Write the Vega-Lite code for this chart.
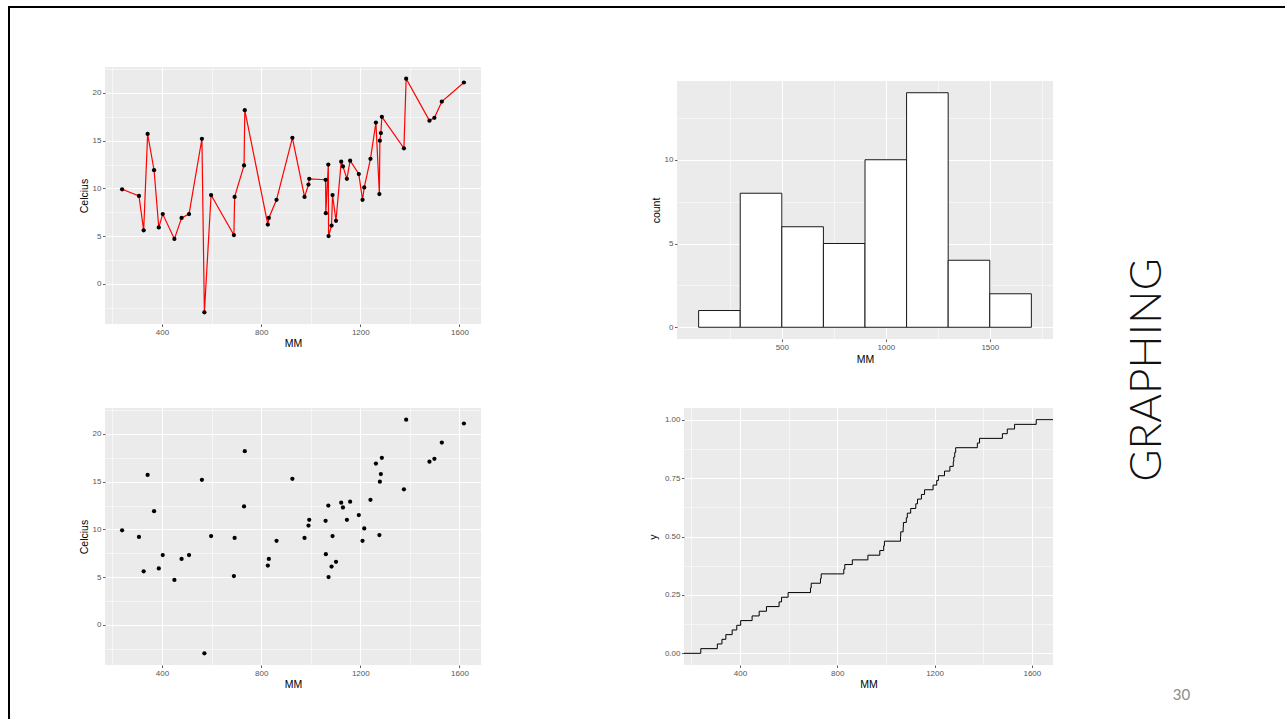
{
  "$schema": "https://vega.github.io/schema/vega-lite/v6.json",
  "background": "white",
  "padding": {"left": 8, "top": 6, "right": 0, "bottom": 0},
  "datasets": {
    "pts": [
      {"MM": 239, "C": 9.9}, {"MM": 307, "C": 9.2}, {"MM": 326, "C": 5.6}, {"MM": 342, "C": 15.7},
      {"MM": 368, "C": 11.9}, {"MM": 387, "C": 5.9}, {"MM": 403, "C": 7.3}, {"MM": 450, "C": 4.7},
      {"MM": 479, "C": 6.9}, {"MM": 509, "C": 7.3}, {"MM": 561, "C": 15.2}, {"MM": 571, "C": -3.0},
      {"MM": 598, "C": 9.3}, {"MM": 690, "C": 5.1}, {"MM": 693, "C": 9.1}, {"MM": 731, "C": 12.4},
      {"MM": 734, "C": 18.2}, {"MM": 827, "C": 6.2}, {"MM": 831, "C": 6.9}, {"MM": 862, "C": 8.8},
      {"MM": 926, "C": 15.3}, {"MM": 975, "C": 9.1}, {"MM": 991, "C": 10.4}, {"MM": 994, "C": 11.0},
      {"MM": 1060, "C": 10.9}, {"MM": 1061, "C": 7.4}, {"MM": 1071, "C": 12.5}, {"MM": 1072, "C": 5.0},
      {"MM": 1084, "C": 6.1}, {"MM": 1088, "C": 9.3}, {"MM": 1102, "C": 6.6}, {"MM": 1123, "C": 12.8},
      {"MM": 1130, "C": 12.3}, {"MM": 1146, "C": 11.0}, {"MM": 1159, "C": 12.9}, {"MM": 1194, "C": 11.5},
      {"MM": 1209, "C": 8.8}, {"MM": 1216, "C": 10.1}, {"MM": 1241, "C": 13.1}, {"MM": 1263, "C": 16.9},
      {"MM": 1277, "C": 9.4}, {"MM": 1279, "C": 15.0}, {"MM": 1283, "C": 15.8}, {"MM": 1287, "C": 17.5},
      {"MM": 1376, "C": 14.2}, {"MM": 1385, "C": 21.5}, {"MM": 1479, "C": 17.1}, {"MM": 1499, "C": 17.4},
      {"MM": 1529, "C": 19.1}, {"MM": 1618, "C": 21.1}
    ],
    "g": [{"label": "GRAPHING"}],
    "n": [{"label": "30"}],
    "none": [{"k": 1}]
  },
  "config": {
    "font": "Liberation Sans",
    "view": {"stroke": null},
    "axis": {
      "labelFont": "Liberation Sans", "labelFontSize": 8, "labelColor": "#555555",
      "tickColor": "#333333", "tickSize": 2.5, "tickWidth": 0.8, "labelPadding": 1.5,
      "domain": false, "gridColor": "#ffffff", "gridWidth": 1.1, "gridOpacity": 1,
      "titleFont": "Liberation Sans", "titleFontSize": 10.5, "titleFontWeight": "normal",
      "titleColor": "#000000", "labelFlush": false, "labelOverlap": false
    },
    "axisX": {"titlePadding": 2},
    "axisY": {"titlePadding": 2.3}
  },
  "spacing": 0,
  "vconcat": [
    {"width": 1277, "height": 2, "data": {"name": "none"}, "mark": {"type": "text", "text": "", "fontSize": 0}, "encoding": {}, "view": {"fill": "#000000", "stroke": null}},
    {
      "spacing": 69,
      "hconcat": [
        {"width": 2, "height": 711, "data": {"name": "none"}, "mark": {"type": "text", "text": "", "fontSize": 0}, "encoding": {}, "view": {"fill": "#000000", "stroke": null}},
        {
          "spacing": 58,
          "vconcat": [
            {"width": 1, "height": 1, "data": {"name": "none"}, "mark": {"type": "text", "text": "", "fontSize": 0}, "encoding": {}},
            {
              "spacing": 69,
              "hconcat": [
                {
                  "spacing": 43,
                  "vconcat": [
                    {
                      "spacing": 170,
                      "hconcat": [
                        {
                          "width": 376, "height": 257,
                          "view": {"fill": "#ebebeb", "stroke": null},
                          "data": {"name": "pts"},
                          "resolve": {"axis": {"x": "independent", "y": "independent"}},
                          "layer": [
                            {
                              "mark": {"type": "point", "opacity": 0},
                              "encoding": {
                                "x": {"field": "MM", "type": "quantitative", "scale": {"domain": [170, 1687], "nice": false, "zero": false},
                                      "axis": {"orient": "bottom", "values": [200, 600, 1000, 1400], "grid": true, "gridWidth": 0.55, "labels": false, "ticks": false, "domain": false, "title": null}},
                                "y": {"field": "C", "type": "quantitative", "scale": {"domain": [-4.225, 22.725], "nice": false, "zero": false},
                                      "axis": {"orient": "left", "values": [-2.5, 2.5, 7.5, 12.5, 17.5, 22.5], "grid": true, "gridWidth": 0.55, "labels": false, "ticks": false, "domain": false, "title": null}}
                              }
                            },
                            {
                              "layer": [
                                {
                                  "mark": {"type": "line", "color": "#ff0000", "strokeWidth": 1.2},
                                  "encoding": {
                                    "x": {"field": "MM", "type": "quantitative", "scale": {"domain": [170, 1687], "nice": false, "zero": false},
                                          "axis": {"orient": "bottom", "values": [400, 800, 1200, 1600], "format": "d", "title": "MM", "grid": true}},
                                    "y": {"field": "C", "type": "quantitative", "scale": {"domain": [-4.225, 22.725], "nice": false, "zero": false},
                                          "axis": {"orient": "left", "values": [0, 5, 10, 15, 20], "format": "d", "title": "Celcius", "grid": true}}
                                  }
                                },
                                {
                                  "mark": {"type": "circle", "color": "#000000", "size": 18, "opacity": 1},
                                  "encoding": {
                                    "x": {"field": "MM", "type": "quantitative",
                                          "axis": {"orient": "bottom", "values": [400, 800, 1200, 1600], "format": "d", "title": "MM", "grid": true}},
                                    "y": {"field": "C", "type": "quantitative",
                                          "axis": {"orient": "left", "values": [0, 5, 10, 15, 20], "format": "d", "title": "Celcius", "grid": true}}
                                  }
                                }
                              ]
                            }
                          ]
                        },
                        {
                          "spacing": 13,
                          "vconcat": [
                            {"width": 1, "height": 1, "data": {"name": "none"}, "mark": {"type": "text", "text": "", "fontSize": 0}, "encoding": {}},
                            {
                              "width": 376, "height": 258,
                              "view": {"fill": "#ebebeb", "stroke": null},
                              "data": {"name": "pts"},
                              "transform": [
                                {"bin": {"extent": [100, 1700], "step": 200, "nice": false}, "field": "MM", "as": ["b0", "b1"]},
                                {"aggregate": [{"op": "count", "as": "n"}], "groupby": ["b0", "b1"]}
                              ],
                              "resolve": {"axis": {"x": "independent", "y": "independent"}},
                              "layer": [
                                {
                                  "mark": {"type": "point", "opacity": 0},
                                  "encoding": {
                                    "x": {"field": "b0", "type": "quantitative", "scale": {"domain": [20, 1780], "nice": false, "zero": false},
                                          "axis": {"orient": "bottom", "values": [250, 750, 1250, 1750], "grid": true, "gridWidth": 0.55, "labels": false, "ticks": false, "domain": false, "title": null}},
                                    "y": {"field": "n", "type": "quantitative", "scale": {"domain": [-0.7, 14.7], "nice": false, "zero": false},
                                          "axis": {"orient": "left", "values": [2.5, 7.5, 12.5], "grid": true, "gridWidth": 0.55, "labels": false, "ticks": false, "domain": false, "title": null}}
                                  }
                                },
                                {
                                  "layer": [
                                    {
                                      "mark": {"type": "bar", "orient": "vertical", "color": "#ffffff", "fill": "#ffffff", "stroke": "#1a1a1a", "strokeWidth": 1},
                                      "encoding": {
                                        "x": {"field": "b0", "type": "quantitative", "scale": {"domain": [20, 1780], "nice": false, "zero": false},
                                              "axis": {"orient": "bottom", "values": [500, 1000, 1500], "format": "d", "title": "MM", "grid": true, "titlePadding": 3}},
                                        "x2": {"field": "b1"},
                                        "y": {"field": "n", "type": "quantitative", "scale": {"domain": [-0.7, 14.7], "nice": false, "zero": false},
                                              "axis": {"orient": "left", "values": [0, 5, 10], "format": "d", "title": "count", "grid": true, "titlePadding": 2.5}},
                                        "y2": {"datum": 0}
                                      }
                                    }
                                  ]
                                }
                              ]
                            }
                          ]
                        }
                      ]
                    },
                    {
                      "spacing": 167,
                      "hconcat": [
                        {
                          "width": 376, "height": 257,
                          "view": {"fill": "#ebebeb", "stroke": null},
                          "data": {"name": "pts"},
                          "resolve": {"axis": {"x": "independent", "y": "independent"}},
                          "layer": [
                            {
                              "mark": {"type": "point", "opacity": 0},
                              "encoding": {
                                "x": {"field": "MM", "type": "quantitative", "scale": {"domain": [170, 1687], "nice": false, "zero": false},
                                      "axis": {"orient": "bottom", "values": [200, 600, 1000, 1400], "grid": true, "gridWidth": 0.55, "labels": false, "ticks": false, "domain": false, "title": null}},
                                "y": {"field": "C", "type": "quantitative", "scale": {"domain": [-4.225, 22.725], "nice": false, "zero": false},
                                      "axis": {"orient": "left", "values": [-2.5, 2.5, 7.5, 12.5, 17.5, 22.5], "grid": true, "gridWidth": 0.55, "labels": false, "ticks": false, "domain": false, "title": null}}
                              }
                            },
                            {
                              "layer": [
                                {
                                  "mark": {"type": "circle", "color": "#000000", "size": 18, "opacity": 1},
                                  "encoding": {
                                    "x": {"field": "MM", "type": "quantitative", "scale": {"domain": [170, 1687], "nice": false, "zero": false},
                                          "axis": {"orient": "bottom", "values": [400, 800, 1200, 1600], "format": "d", "title": "MM", "grid": true}},
                                    "y": {"field": "C", "type": "quantitative", "scale": {"domain": [-4.225, 22.725], "nice": false, "zero": false},
                                          "axis": {"orient": "left", "values": [0, 5, 10, 15, 20], "format": "d", "title": "Celcius", "grid": true}}
                                  }
                                }
                              ]
                            }
                          ]
                        },
                        {
                          "width": 369, "height": 257,
                          "view": {"fill": "#ebebeb", "stroke": null},
                          "data": {"name": "pts"},
                          "transform": [
                            {"window": [{"op": "cume_dist", "as": "F"}, {"op": "percent_rank", "as": "P"}], "sort": [{"field": "MM", "order": "ascending"}]}
                          ],
                          "resolve": {"axis": {"x": "independent", "y": "independent"}},
                          "layer": [
                            {
                              "mark": {"type": "point", "opacity": 0},
                              "encoding": {
                                "x": {"field": "MM", "type": "quantitative", "scale": {"domain": [170, 1687], "nice": false, "zero": false},
                                      "axis": {"orient": "bottom", "values": [200, 600, 1000, 1400], "grid": true, "gridWidth": 0.55, "labels": false, "ticks": false, "domain": false, "title": null}},
                                "y": {"field": "F", "type": "quantitative", "scale": {"domain": [-0.05, 1.05], "nice": false, "zero": false},
                                      "axis": {"orient": "left", "values": [0.125, 0.375, 0.625, 0.875], "grid": true, "gridWidth": 0.55, "labels": false, "ticks": false, "domain": false, "title": null}}
                              }
                            },
                            {
                              "layer": [
                                {
                                  "mark": {"type": "line", "interpolate": "step-after", "color": "#000000", "strokeWidth": 1},
                                  "encoding": {
                                    "x": {"field": "MM", "type": "quantitative", "scale": {"domain": [170, 1687], "nice": false, "zero": false},
                                          "axis": {"orient": "bottom", "values": [400, 800, 1200, 1600], "format": "d", "title": "MM", "grid": true}},
                                    "y": {"field": "F", "type": "quantitative", "scale": {"domain": [-0.05, 1.05], "nice": false, "zero": false},
                                          "axis": {"orient": "left", "values": [0, 0.25, 0.5, 0.75, 1], "format": ".2f", "title": "y", "grid": true, "titlePadding": 5.8}}
                                  }
                                },
                                {
                                  "transform": [
                                    {"joinaggregate": [{"op": "min", "field": "MM", "as": "lo"}]},
                                    {"filter": "datum.MM === datum.lo"}
                                  ],
                                  "mark": {"type": "rule", "color": "#000000", "strokeWidth": 1},
                                  "encoding": {
                                    "x": {"field": "MM", "type": "quantitative",
                                          "axis": {"orient": "bottom", "values": [400, 800, 1200, 1600], "format": "d", "title": "MM", "grid": true}},
                                    "y": {"field": "F", "type": "quantitative",
                                          "axis": {"orient": "left", "values": [0, 0.25, 0.5, 0.75, 1], "format": ".2f", "title": "y", "grid": true, "titlePadding": 5.8}},
                                    "y2": {"field": "P"}
                                  }
                                },
                                {
                                  "transform": [
                                    {"joinaggregate": [{"op": "min", "field": "MM", "as": "lo"}]},
                                    {"filter": "datum.MM === datum.lo"}
                                  ],
                                  "mark": {"type": "rule", "color": "#000000", "strokeWidth": 1},
                                  "encoding": {
                                    "x": {"field": "MM", "type": "quantitative",
                                          "axis": {"orient": "bottom", "values": [400, 800, 1200, 1600], "format": "d", "title": "MM", "grid": true}},
                                    "x2": {"datum": 170},
                                    "y": {"field": "P", "type": "quantitative",
                                          "axis": {"orient": "left", "values": [0, 0.25, 0.5, 0.75, 1], "format": ".2f", "title": "y", "grid": true, "titlePadding": 5.8}}
                                  }
                                },
                                {
                                  "transform": [
                                    {"joinaggregate": [{"op": "max", "field": "MM", "as": "hi"}]},
                                    {"filter": "datum.MM === datum.hi"}
                                  ],
                                  "mark": {"type": "rule", "color": "#000000", "strokeWidth": 1},
                                  "encoding": {
                                    "x": {"field": "MM", "type": "quantitative",
                                          "axis": {"orient": "bottom", "values": [400, 800, 1200, 1600], "format": "d", "title": "MM", "grid": true}},
                                    "x2": {"datum": 1687},
                                    "y": {"field": "F", "type": "quantitative",
                                          "axis": {"orient": "left", "values": [0, 0.25, 0.5, 0.75, 1], "format": ".2f", "title": "y", "grid": true, "titlePadding": 5.8}}
                                  }
                                }
                              ]
                            }
                          ]
                        }
                      ]
                    }
                  ]
                },
                {
                  "spacing": 12,
                  "vconcat": [
                    {
                      "width": 50, "height": 606,
                      "data": {"name": "g"},
                      "mark": {"type": "text", "angle": -90, "font": "Lato", "fontSize": 44, "fontWeight": 300, "color": "#111111", "align": "center", "baseline": "middle"},
                      "encoding": {"text": {"field": "label", "type": "nominal"}}
                    },
                    {
                      "width": 117, "height": 20,
                      "data": {"name": "n"},
                      "mark": {"type": "text", "font": "Lato", "fontSize": 15, "color": "#8c8c8c", "align": "center", "baseline": "middle"},
                      "encoding": {"text": {"field": "label", "type": "nominal"}}
                    }
                  ]
                }
              ]
            }
          ]
        }
      ]
    }
  ]
}
